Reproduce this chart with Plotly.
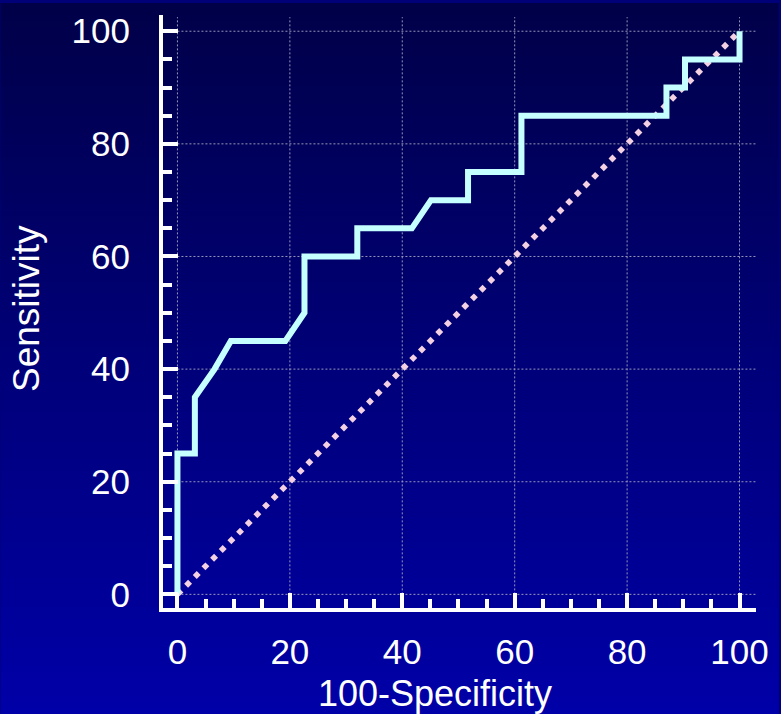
import plotly.graph_objects as go

# ROC curve operating points (100-Specificity, Sensitivity)
fpr = [0, 0, 3.1, 3.1, 6.6, 9.5, 19.2, 22.6, 22.6, 32.0, 32.0, 41.7, 45.1,
       51.7, 51.7, 61.2, 61.2, 87.0, 87.0, 90.3, 90.3, 100, 100]
tpr = [0, 25, 25, 35, 40, 45, 45, 50, 60, 60, 65, 65, 70,
       70, 75, 75, 85, 85, 90, 90, 95, 95, 100]

# chance line
ref_x = [0, 100]
ref_y = [0, 100]

tick_vals = [0, 20, 40, 60, 80, 100]
tick_text = ["0", "20", "40", "60", "80", "100"]

W, H = 781, 714
ML, MR, MT, MB = 163, 23, 12, 106
PW, PH = W - ML - MR, H - MT - MB

FONT = "Liberation Sans, Arial, sans-serif"

fig = go.Figure()

fig.add_trace(go.Scatter(
    x=ref_x, y=ref_y, mode="lines",
    line=dict(color="#f3d0e2", width=5.6, dash="5.6px,6.66px"),
    hoverinfo="skip", showlegend=False,
))
fig.add_trace(go.Scatter(
    x=fpr, y=tpr, mode="lines",
    line=dict(color="#c6ffff", width=6),
    showlegend=False,
))

shapes = []
# vertical blue gradient behind the whole page
n_bands = 120
top_c, bot_c = 72, 168
x0p, x1p = -ML / PW, (W - ML) / PW
for i in range(n_bands):
    py0 = H * i / n_bands
    py1 = H * (i + 1) / n_bands + 0.6
    t = (i + 0.5) / n_bands
    b = round(top_c + (bot_c - top_c) * t)
    shapes.append(dict(
        type="rect", xref="paper", yref="paper", layer="below",
        x0=x0p, x1=x1p,
        y0=(MT + PH - py1) / PH, y1=(MT + PH - py0) / PH,
        fillcolor=f"rgb(0,0,{b})", line=dict(width=0),
    ))

# dotted grid over the data region
grid = dict(color="rgb(150,150,185)", width=1, dash="2px,2px")
for v in tick_vals:
    shapes.append(dict(type="line", xref="x", yref="y", layer="below",
                       x0=v, x1=v, y0=0, y1=102.5, line=grid))
    shapes.append(dict(type="line", xref="x", yref="y", layer="below",
                       x0=0, x1=103, y0=v, y1=v, line=grid))

axis_common = dict(
    showline=True, linecolor="white", linewidth=4,
    ticks="inside", ticklen=15, tickwidth=4, tickcolor="white",
    tickvals=tick_vals, ticktext=tick_text,
    tickfont=dict(family=FONT, size=35, color="white"),
    showgrid=False, zeroline=False,
    minor=dict(dtick=5, tick0=0, ticks="inside", ticklen=9, tickwidth=4,
               tickcolor="white", showgrid=False),
)

fig.update_layout(
    width=W, height=H,
    margin=dict(l=ML, r=MR, t=MT, b=MB, pad=0),
    paper_bgcolor="rgb(0,0,120)", plot_bgcolor="rgba(0,0,0,0)",
    shapes=shapes,
    xaxis=dict(range=[-2.57, 102.93], ticklabelstandoff=10, **axis_common),
    yaxis=dict(range=[-2.42, 102.88], ticklabelstandoff=22, **axis_common),
    annotations=[
        dict(text="100-Specificity", xref="paper", yref="paper",
             x=(436 - ML) / PW, y=(MT + PH - 694) / PH,
             xanchor="center", yanchor="middle", showarrow=False,
             font=dict(family=FONT, size=36, color="white")),
        dict(text="Sensitivity", xref="paper", yref="paper",
             x=(26 - ML) / PW, y=(MT + PH - 307) / PH, textangle=-90,
             xanchor="center", yanchor="middle", showarrow=False,
             font=dict(family=FONT, size=37, color="white")),
    ],
)

fig.write_html("out.html")
